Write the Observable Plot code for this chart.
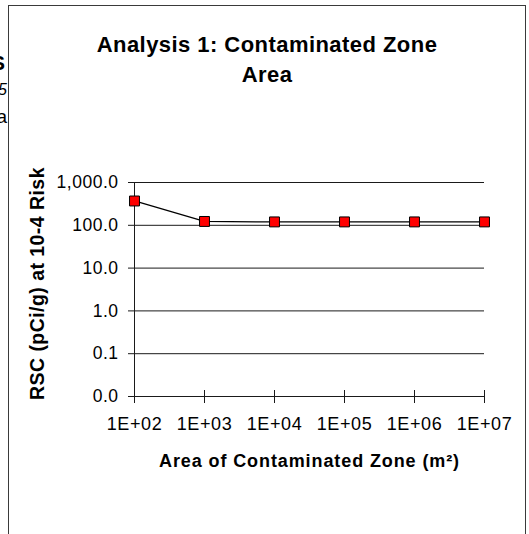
<!DOCTYPE html>
<html>
<head>
<meta charset="utf-8">
<script src="https://cdn.jsdelivr.net/npm/d3@7"></script>
<script src="https://cdn.jsdelivr.net/npm/@observablehq/plot@0.6"></script>
<style>
  html, body { margin: 0; padding: 0; background: #fff; }
  body { width: 529px; height: 534px; overflow: hidden; position: relative; font-family: "Liberation Sans", Arial, sans-serif; }
  #frame { position: absolute; left: 8px; top: 5px; width: 518px; height: 560px; box-sizing: border-box; border: 1px solid #3a3a3a; }
  #title { position: absolute; left: 8px; top: 30px; width: 518px; text-align: center; font-weight: bold; font-size: 22px; line-height: 30px; letter-spacing: 0.45px; color: #000; }
  .frag { position: absolute; left: -100px; width: 107px; text-align: right; color: #000; line-height: 1; }
  #chart { position: absolute; left: 0; top: 100px; }
  #chart svg { overflow: visible; background: transparent; }
</style>
</head>
<body>
<div id="frame"></div>
<div class="frag" style="top:52px;font-size:21px;font-weight:bold;width:105px;">S</div>
<div class="frag" style="top:82px;font-size:16px;font-style:italic;">5</div>
<div class="frag" style="top:107px;font-size:19px;">a</div>
<div id="title">Analysis 1: Contaminated Zone<br>Area</div>
<div id="chart"></div>
<script>
// ---- data ----
const areas = [1e2, 1e3, 1e4, 1e5, 1e6, 1e7];
const rsc = [370, 123, 120, 120, 120, 120];
const yTicks = [0.01, 0.1, 1, 10, 100, 1000];
const xTickLabels = ["1E+02", "1E+03", "1E+04", "1E+05", "1E+06", "1E+07"];
const xTitle = "Area of Contaminated Zone (m²)";
const yTitle = "RSC (pCi/g) at 10-4 Risk";

const data = areas.map((a, i) => ({area: a, rsc: rsc[i]}));
const gridVals = yTicks.slice(1);
const yFmt = d3.format(",.1f");
const xFmt = d => xTickLabels[areas.indexOf(d)];

const chart = Plot.plot({
  width: 529,
  height: 434,
  marginLeft: 134,
  marginRight: 45,
  marginTop: 82,
  marginBottom: 138,
  style: {fontFamily: "'Liberation Sans', Arial, sans-serif", fontSize: "17px", color: "#000", background: "transparent"},
  x: {type: "log", domain: [1e2, 1e7], axis: null},
  y: {type: "log", domain: [0.01, 1000], axis: null},
  marks: [
    Plot.ruleY(gridVals, {y: d => d, stroke: "#1a1a1a", strokeWidth: 1}),
    Plot.ruleY([0.01], {y: d => d, stroke: "#1a1a1a", strokeWidth: 1}),
    Plot.ruleX([1e2], {x: d => d, stroke: "#1a1a1a", strokeWidth: 1}),
    Plot.axisY({ticks: yTicks, tickFormat: yFmt, tickSize: 6, tickPadding: 10, label: null, stroke: "#1a1a1a", fontSize: 17.5}),
    Plot.axisX({ticks: areas, tickFormat: () => "", tickSize: 13, dy: -6, label: null, stroke: "#1a1a1a"}),
    Plot.axisX({ticks: areas, tickFormat: xFmt, tickSize: 0, tickPadding: 21, label: null, fontSize: 18}),
    Plot.line(data, {x: "area", y: "rsc", stroke: "#000", strokeWidth: 1.3}),
    Plot.dot(data, {x: "area", y: "rsc", symbol: "square", r: 5.6, fill: "#ff0000", stroke: "#000", strokeWidth: 1}),
    Plot.text([xTitle], {text: d => d, frameAnchor: "bottom", dy: 65, lineAnchor: "middle", textAnchor: "middle", fontSize: 18, fontWeight: "bold"}),
    Plot.text([yTitle], {text: d => d, frameAnchor: "left", dx: -97, dy: -6, rotate: -90, lineAnchor: "middle", textAnchor: "middle", fontSize: 19.5, fontWeight: "bold"})
  ]
});
document.getElementById("chart").appendChild(chart);
// widen glyph spacing to match the reference's rendering
d3.select(chart).selectAll("text").each(function () {
  const t = this.textContent;
  let ls = null;
  if (xTickLabels.includes(t)) ls = 0.6;
  else if (yTicks.map(yFmt).includes(t)) ls = 0.5;
  else if (t === xTitle) ls = 0.9;
  else if (t === yTitle) ls = 0.45;
  if (ls !== null) {
    this.setAttribute("letter-spacing", ls);
    this.style.letterSpacing = ls + "px";
  }
});
</script>
</body>
</html>
